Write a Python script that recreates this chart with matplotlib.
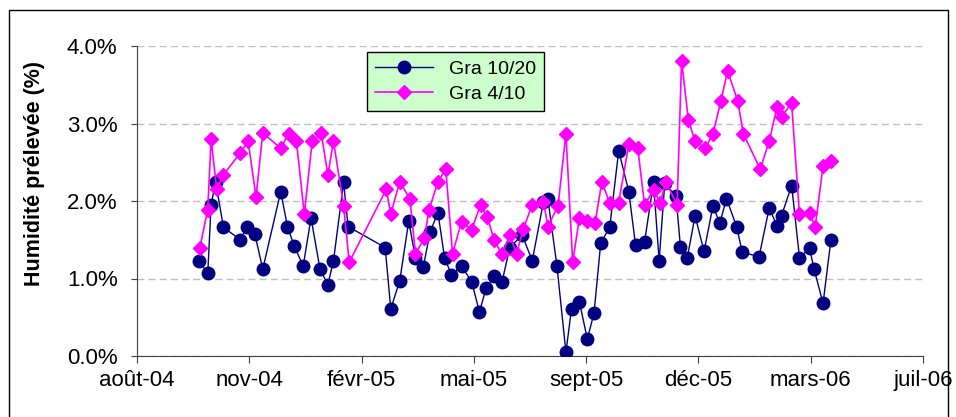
import matplotlib
matplotlib.use("Agg")
import matplotlib.pyplot as plt
import matplotlib.dates as mdates
from matplotlib.patches import Rectangle
from matplotlib.ticker import FuncFormatter, MultipleLocator
import pandas as pd

plt.rcParams["font.family"] = ["Liberation Sans", "DejaVu Sans"]

# --- data (humidité prélevée, %) ---
gra_10_20_dates = [
    "2004-09-25", "2004-10-03", "2004-10-06", "2004-10-10", "2004-10-17",
    "2004-11-01", "2004-11-07", "2004-11-14", "2004-11-21",
    "2004-12-07", "2004-12-13", "2004-12-19", "2004-12-27",
    "2005-01-03", "2005-01-11", "2005-01-18", "2005-01-23",
    "2005-02-01", "2005-02-05",
    "2005-03-10", "2005-03-15", "2005-03-23", "2005-03-31",
    "2005-04-06", "2005-04-13", "2005-04-19", "2005-04-26",
    "2005-05-02", "2005-05-08", "2005-05-17", "2005-05-26",
    "2005-06-02", "2005-06-08", "2005-06-15", "2005-06-22",
    "2005-06-29", "2005-07-10", "2005-07-19", "2005-07-29",
    "2005-08-02", "2005-08-10", "2005-08-18", "2005-08-23",
    "2005-08-30", "2005-09-06", "2005-09-12", "2005-09-18",
    "2005-09-26", "2005-10-04", "2005-10-13", "2005-10-19",
    "2005-10-27", "2005-11-04", "2005-11-09", "2005-11-14",
    "2005-11-24", "2005-11-28", "2005-12-04", "2005-12-11",
    "2005-12-19", "2005-12-27", "2006-01-02", "2006-01-08",
    "2006-01-17", "2006-01-22", "2006-02-06", "2006-02-15",
    "2006-02-22", "2006-02-26", "2006-03-07", "2006-03-14",
    "2006-03-23", "2006-03-27", "2006-04-04", "2006-04-11",
]
gra_10_20_values = [
    1.23, 1.07, 1.95, 2.25, 1.66,
    1.50, 1.67, 1.57, 1.12,
    2.12, 1.67, 1.42, 1.16,
    1.78, 1.12, 0.92, 1.23,
    2.24, 1.67,
    1.40, 0.61, 0.97, 1.74,
    1.26, 1.15, 1.60, 1.85,
    1.26, 1.05, 1.16, 0.96,
    0.57, 0.88, 1.03, 0.95,
    1.40, 1.56, 1.23, 1.99,
    2.02, 1.16, 0.05, 0.61,
    0.70, 0.22, 0.55, 1.46,
    1.66, 2.65, 2.12, 1.43,
    1.47, 2.24, 1.23, 2.23,
    2.06, 1.41, 1.26, 1.81,
    1.35, 1.94, 1.71, 2.03,
    1.67, 1.34, 1.28, 1.91,
    1.68, 1.81, 2.20, 1.27,
    1.39, 1.12, 0.68, 1.50,
]

gra_4_10_dates = [
    "2004-09-26", "2004-10-03", "2004-10-06", "2004-10-11", "2004-10-17",
    "2004-11-01", "2004-11-08", "2004-11-15", "2004-11-21",
    "2004-12-07", "2004-12-14", "2004-12-21", "2004-12-28",
    "2005-01-04", "2005-01-12", "2005-01-18", "2005-01-23",
    "2005-02-01", "2005-02-06",
    "2005-03-11", "2005-03-15", "2005-03-23", "2005-04-01",
    "2005-04-06", "2005-04-14", "2005-04-18", "2005-04-26",
    "2005-05-03", "2005-05-09", "2005-05-17", "2005-05-26",
    "2005-06-03", "2005-06-09", "2005-06-15", "2005-06-22",
    "2005-06-29", "2005-07-05", "2005-07-11", "2005-07-19",
    "2005-07-29", "2005-08-02", "2005-08-11", "2005-08-18",
    "2005-08-24", "2005-08-30", "2005-09-06", "2005-09-13",
    "2005-09-19", "2005-09-26", "2005-10-04", "2005-10-13",
    "2005-10-21", "2005-10-27", "2005-11-04", "2005-11-10",
    "2005-11-15", "2005-11-25", "2005-11-29", "2005-12-05",
    "2005-12-11", "2005-12-20", "2005-12-27", "2006-01-03",
    "2006-01-09", "2006-01-18", "2006-01-23", "2006-02-07",
    "2006-02-15", "2006-02-22", "2006-02-26", "2006-03-07",
    "2006-03-14", "2006-03-23", "2006-03-28", "2006-04-04",
    "2006-04-11",
]
gra_4_10_values = [
    1.40, 1.89, 2.80, 2.15, 2.34,
    2.62, 2.77, 2.05, 2.88,
    2.68, 2.87, 2.77, 1.83,
    2.77, 2.88, 2.34, 2.77,
    1.94, 1.21,
    2.15, 1.83, 2.25, 2.03,
    1.32, 1.52, 1.88, 2.25,
    2.41, 1.32, 1.73, 1.63,
    1.95, 1.79, 1.50, 1.31,
    1.56, 1.32, 1.64, 1.95,
    1.99, 1.67, 1.94, 2.87,
    1.21, 1.78, 1.74, 1.72,
    2.25, 1.97, 1.98, 2.73,
    2.68, 1.95, 2.14, 1.98,
    2.25, 1.95, 3.81, 3.05,
    2.77, 2.68, 2.87, 3.29,
    3.68, 3.29, 2.87, 2.41,
    2.77, 3.21, 3.09, 3.26,
    1.83, 1.84, 1.67, 2.45,
    2.51,
]

series_labels = ["Gra 10/20", "Gra 4/10"]
y_label = "Humidité prélevée (%)"
x_start = "2004-08-01"
x_end = "2006-07-02"
tick_step_days = 100
mois = ["janv", "févr", "mars", "avr", "mai", "juin",
        "juil", "août", "sept", "oct", "nov", "déc"]


def french_month(x, pos=None):
    d = mdates.num2date(x)
    return f"{mois[d.month - 1]}-{d.strftime('%y')}"


fig = plt.figure(figsize=(9.56, 4.17), dpi=100)
ax = fig.add_axes([137 / 956, 61 / 417, 786 / 956, 310 / 417])

ax.plot(pd.to_datetime(gra_10_20_dates), gra_10_20_values,
        color="#000080", linewidth=1.0, marker="o", markersize=9,
        markerfacecolor="#000080", markeredgecolor="#000080",
        label=series_labels[0], zorder=3)
ax.plot(pd.to_datetime(gra_4_10_dates), gra_4_10_values,
        color="#FF00FF", linewidth=1.2, marker="D", markersize=7.5,
        markerfacecolor="#FF00FF", markeredgecolor="#FF00FF",
        label=series_labels[1], zorder=4)

# axes, ticks
ax.set_xlim(pd.Timestamp(x_start), pd.Timestamp(x_end))
ax.set_ylim(0, 4)
ax.set_xticks(pd.date_range(x_start, x_end, freq=f"{tick_step_days}D"))
ax.xaxis.set_major_formatter(FuncFormatter(french_month))
ax.yaxis.set_major_locator(MultipleLocator(1))
ax.yaxis.set_major_formatter(FuncFormatter(lambda v, p: f"{v:.1f}%"))
ax.tick_params(axis="both", labelsize=16, direction="out", color="#404040")
ax.tick_params(axis="y", length=4, pad=10)
ax.tick_params(axis="x", length=5, pad=5)

for side in ["top", "right"]:
    ax.spines[side].set_visible(False)
for side in ["left", "bottom"]:
    ax.spines[side].set_color("#404040")

ax.yaxis.grid(True, color="#BFBFBF", linestyle=(0, (5, 3)), linewidth=1)
ax.set_axisbelow(True)

fig.text(35 / 956, 1 - 173 / 417, y_label, rotation=90, ha="center",
         va="center", fontsize=15.5, fontweight="bold")

leg = ax.legend(loc="upper left", bbox_to_anchor=(0.2926, 0.98),
                borderaxespad=0, fancybox=False, framealpha=1,
                facecolor="#CCFFCC", edgecolor="black", fontsize=14,
                handlelength=3, borderpad=0.4, labelspacing=0.4)
leg.get_frame().set_linewidth(1)

# outer chart border
fig.patches.append(Rectangle((9 / 956, -0.05), 939 / 956, 1.05 - 10 / 417,
                             transform=fig.transFigure, fill=False,
                             edgecolor="black", linewidth=1))

fig.savefig("out.png", dpi=100)
plt.close(fig)
